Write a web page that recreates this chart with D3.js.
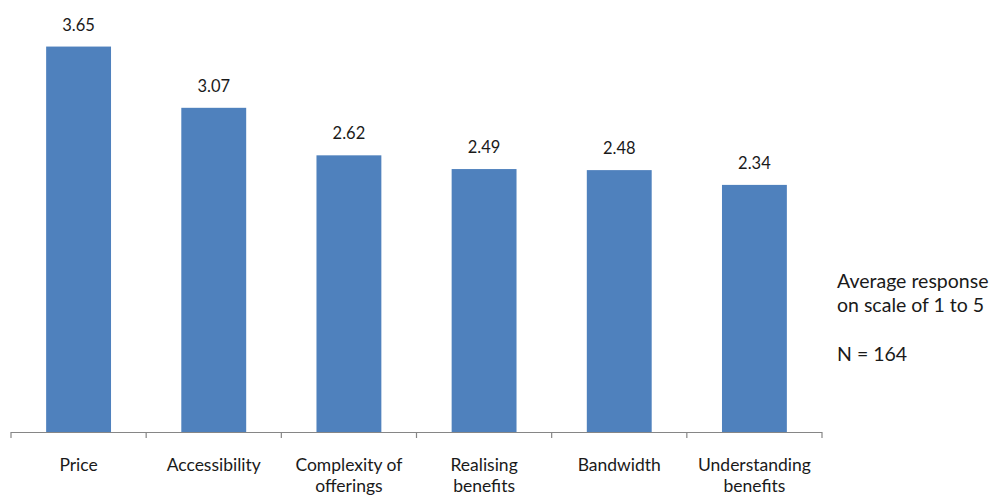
<!DOCTYPE html>
<html>
<head>
<meta charset="utf-8">
<script src="https://cdn.jsdelivr.net/npm/d3@7"></script>
<style>
  body { margin: 0; background: #fff; }
  svg { display: block; font-family: Lato, "Open Sans", sans-serif; }
</style>
</head>
<body>
<svg id="chart" width="994" height="496"></svg>
<script>
// Barriers ranked by average response
const categories = ["Price", "Accessibility", "Complexity of offerings", "Realising benefits", "Bandwidth", "Understanding benefits"];
const categoryLines = [["Price"], ["Accessibility"], ["Complexity of", "offerings"], ["Realising", "benefits"], ["Bandwidth"], ["Understanding", "benefits"]];
const values = [3.65, 3.07, 2.62, 2.49, 2.48, 2.34];
const noteLines = ["Average response", "on scale of 1 to 5", "", "N = 164"];

const svg = d3.select("#chart");

const x = d3.scaleBand()
  .domain(categories)
  .range([11, 822])
  .paddingInner(0.52)
  .paddingOuter(0.26);

const y = d3.scaleLinear()
  .domain([0, 4])
  .range([432, 9.6]);

// bars
svg.selectAll("rect.bar")
  .data(values)
  .join("rect")
  .attr("class", "bar")
  .attr("x", (d, i) => x(categories[i]))
  .attr("width", x.bandwidth())
  .attr("y", d => y(d))
  .attr("height", d => y(0) - y(d))
  .attr("fill", "#4F81BD");

// value labels
svg.selectAll("text.val")
  .data(values)
  .join("text")
  .attr("class", "val")
  .attr("x", (d, i) => x(categories[i]) + x.bandwidth() / 2)
  .attr("y", d => y(d) - 16)
  .attr("text-anchor", "middle")
  .attr("font-size", 16.5)
  .attr("fill", "#1a1a1a")
  .text(d => d.toFixed(2));

// category axis with tick marks between bands
const axisG = svg.append("g");
const edges = d3.range(categories.length + 1).map(i => 11 + i * (811 / categories.length));
axisG.append("line")
  .attr("x1", 11).attr("x2", 822)
  .attr("y1", y(0) + 0.5).attr("y2", y(0) + 0.5)
  .attr("stroke", "#868686").attr("stroke-width", 1.2);
axisG.selectAll("line.tick")
  .data(edges)
  .join("line")
  .attr("class", "tick")
  .attr("x1", d => d).attr("x2", d => d)
  .attr("y1", y(0)).attr("y2", y(0) + 6)
  .attr("stroke", "#868686").attr("stroke-width", 1.2);

// category labels
const labelG = svg.append("g");
categories.forEach((c, i) => {
  categoryLines[i].forEach((line, j) => {
    labelG.append("text")
      .attr("x", x(c) + x.bandwidth() / 2)
      .attr("y", 471 + j * 21)
      .attr("text-anchor", "middle")
      .attr("font-size", 17.5)
      .attr("fill", "#1a1a1a")
      .text(line);
  });
});

// side note
svg.append("g").selectAll("text")
  .data(noteLines)
  .join("text")
  .attr("x", 837)
  .attr("y", (d, j) => 287.5 + j * 24.5)
  .attr("font-size", 19.5)
  .attr("fill", "#1a1a1a")
  .text(d => d);
</script>
</body>
</html>
